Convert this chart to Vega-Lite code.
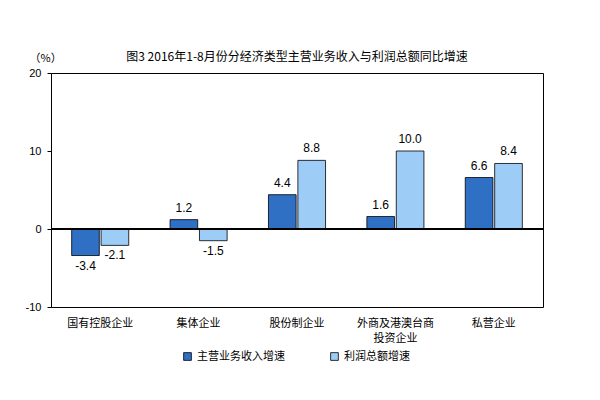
{
  "$schema": "https://vega.github.io/schema/vega-lite/v6.json",
  "width": 492,
  "height": 234,
  "autosize": "none",
  "padding": {"left": 51, "top": 73, "right": 57, "bottom": 93},
  "background": "white",
  "title": {
    "text": "图3 2016年1-8月份分经济类型主营业务收入与利润总额同比增速",
    "font": "Noto Sans CJK SC",
    "fontSize": 12,
    "fontWeight": "normal",
    "color": "black",
    "anchor": "middle",
    "offset": -12
  },
  "config": {
    "view": {"stroke": "black", "strokeWidth": 1},
    "font": "Noto Sans CJK SC"
  },
  "data": {
    "values": [
      {"category": "国有控股企业", "series": "主营业务收入增速", "value": -3.4},
      {"category": "国有控股企业", "series": "利润总额增速", "value": -2.1},
      {"category": "集体企业", "series": "主营业务收入增速", "value": 1.2},
      {"category": "集体企业", "series": "利润总额增速", "value": -1.5},
      {"category": "股份制企业", "series": "主营业务收入增速", "value": 4.4},
      {"category": "股份制企业", "series": "利润总额增速", "value": 8.8},
      {"category": "外商及港澳台商投资企业", "series": "主营业务收入增速", "value": 1.6},
      {"category": "外商及港澳台商投资企业", "series": "利润总额增速", "value": 10.0},
      {"category": "私营企业", "series": "主营业务收入增速", "value": 6.6},
      {"category": "私营企业", "series": "利润总额增速", "value": 8.4}
    ]
  },
  "transform": [
    {"calculate": "replace(format(datum.value, '.1f'), '\u2212', '-')", "as": "label"}
  ],
  "encoding": {
    "x": {
      "field": "category",
      "type": "nominal",
      "sort": null,
      "scale": {"paddingInner": 0.42, "paddingOuter": 0.21},
      "axis": {
        "title": null,
        "labelAngle": 0,
        "domain": false,
        "ticks": false,
        "labelFont": "Noto Sans CJK SC",
        "labelFontSize": 11,
        "labelColor": "black",
        "labelPadding": 10,
        "labelLineHeight": 15,
        "labelExpr": "datum.label == '外商及港澳台商投资企业' ? ['外商及港澳台商', '投资企业'] : datum.label"
      }
    },
    "xOffset": {
      "field": "series",
      "type": "nominal",
      "sort": ["主营业务收入增速", "利润总额增速"],
      "scale": {"paddingInner": 0.06}
    }
  },
  "layer": [
    {
      "mark": {"type": "bar", "stroke": "black", "strokeWidth": 0.8},
      "encoding": {
        "y": {
          "field": "value",
          "type": "quantitative",
          "scale": {"domain": [-10, 20], "nice": false},
          "axis": {
            "values": [-10, 0, 10, 20],
            "grid": false,
            "domainColor": "black",
            "tickColor": "black",
            "tickSize": 4,
            "labelColor": "black",
            "labelFont": "Liberation Sans",
            "labelFontSize": 11,
            "labelPadding": 6,
            "labelExpr": "replace(datum.label, '\u2212', '-')",
            "title": "（%）",
            "titleAngle": 0,
            "titleFont": "Noto Sans CJK SC",
            "titleFontSize": 11,
            "titleFontWeight": "normal",
            "titleColor": "black",
            "titleX": -22,
            "titleY": -10,
            "titleAlign": "left"
          }
        },
        "color": {
          "field": "series",
          "type": "nominal",
          "sort": ["主营业务收入增速", "利润总额增速"],
          "scale": {"domain": ["主营业务收入增速", "利润总额增速"], "range": ["#2F6FC4", "#9DCDF6"]},
          "legend": {
            "title": null,
            "orient": "none",
            "direction": "horizontal",
            "legendX": 131,
            "legendY": 278,
            "symbolType": "square",
            "symbolSize": 60,
            "symbolStrokeColor": "black",
            "symbolStrokeWidth": 0.8,
            "labelFont": "Noto Sans CJK SC",
            "labelFontSize": 11,
            "labelColor": "black",
            "columnPadding": 44,
            "labelOffset": 4
          }
        }
      }
    },
    {
      "mark": {"type": "rule", "color": "black", "strokeWidth": 1},
      "encoding": {"y": {"datum": 0}, "x": null, "xOffset": null}
    },
    {
      "transform": [{"filter": "datum.value >= 0"}],
      "mark": {"type": "text", "baseline": "bottom", "dy": -5, "font": "Liberation Sans", "fontSize": 12, "color": "black"},
      "encoding": {
        "y": {"field": "value", "type": "quantitative"},
        "text": {"field": "label", "type": "nominal"}
      }
    },
    {
      "transform": [{"filter": "datum.value < 0"}],
      "mark": {"type": "text", "baseline": "top", "dy": 5, "font": "Liberation Sans", "fontSize": 12, "color": "black"},
      "encoding": {
        "y": {"field": "value", "type": "quantitative"},
        "text": {"field": "label", "type": "nominal"}
      }
    }
  ]
}
